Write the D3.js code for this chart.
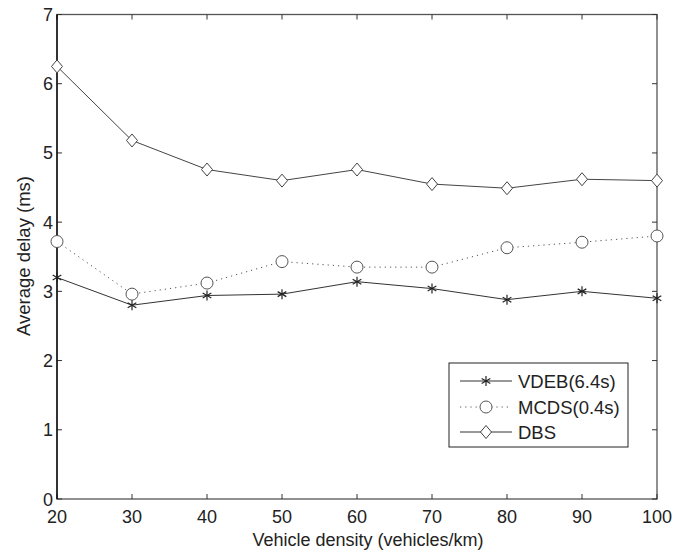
<!DOCTYPE html>
<html>
<head>
<meta charset="utf-8">
<script src="https://cdn.jsdelivr.net/npm/d3@7"></script>
<style>
  body { margin: 0; background: #fff; }
  text { font-family: "Liberation Sans", Arial, sans-serif; fill: #222; }
</style>
</head>
<body>
<svg id="chart" width="675" height="554"></svg>
<script>
// data
var density = [20, 30, 40, 50, 60, 70, 80, 90, 100];
var vdeb = [3.2, 2.8, 2.94, 2.96, 3.14, 3.04, 2.88, 3.0, 2.9];
var mcds = [3.72, 2.96, 3.12, 3.43, 3.35, 3.35, 3.63, 3.71, 3.8];
var dbs = [6.25, 5.18, 4.76, 4.6, 4.76, 4.55, 4.49, 4.62, 4.6];
var seriesNames = ["VDEB(6.4s)", "MCDS(0.4s)", "DBS"];
var xTicks = [20, 30, 40, 50, 60, 70, 80, 90, 100];
var yTicks = [0, 1, 2, 3, 4, 5, 6, 7];

var svg = d3.select("#chart");
var pL = 57, pR = 657, pT = 14.5, pB = 499;

var x = d3.scaleLinear().domain([20, 100]).range([pL, pR]);
var y = d3.scaleLinear().domain([0, 7]).range([pB, pT]);

// box + inward ticks
svg.append("rect")
  .attr("x", pL).attr("y", pT)
  .attr("width", pR - pL).attr("height", pB - pT)
  .attr("fill", "none").attr("stroke", "#555").attr("stroke-width", 1.3);

var tl = 5;
var g = svg.append("g").attr("stroke", "#333").attr("stroke-width", 1);
xTicks.forEach(function (t) {
  g.append("line").attr("x1", x(t)).attr("x2", x(t)).attr("y1", pB).attr("y2", pB - tl);
  g.append("line").attr("x1", x(t)).attr("x2", x(t)).attr("y1", pT).attr("y2", pT + tl);
});
yTicks.forEach(function (t) {
  g.append("line").attr("x1", pL).attr("x2", pL + tl).attr("y1", y(t)).attr("y2", y(t));
  g.append("line").attr("x1", pR).attr("x2", pR - tl).attr("y1", y(t)).attr("y2", y(t));
});
svg.append("line").attr("x1", pL).attr("x2", pL).attr("y1", pT).attr("y2", pB)
  .attr("stroke", "#000").attr("stroke-width", 1.3);

svg.selectAll(".xl").data(xTicks).enter().append("text")
  .attr("x", function (d) { return x(d); })
  .attr("y", 523)
  .attr("text-anchor", "middle")
  .attr("font-size", "18px")
  .text(function (d) { return d; });

svg.selectAll(".yl").data(yTicks).enter().append("text")
  .attr("x", 53)
  .attr("y", function (d) { return y(d) + 6.5; })
  .attr("text-anchor", "end")
  .attr("font-size", "18px")
  .text(function (d) { return d; });

svg.append("text")
  .attr("x", 368).attr("y", 546)
  .attr("text-anchor", "middle").attr("font-size", "18px")
  .text("Vehicle density (vehicles/km)");

svg.append("text")
  .attr("transform", "translate(30,256) rotate(-90)")
  .attr("text-anchor", "middle").attr("font-size", "18.5px")
  .text("Average delay (ms)");

var line = d3.line()
  .x(function (d, i) { return x(density[i]); })
  .y(function (d) { return y(d); });

function star(sel, cx, cy, r) {
  var gg = sel.append("g").attr("stroke", "#222").attr("stroke-width", 1.2);
  [0, 60, 120].forEach(function (a) {
    var rad = (a + 90) * Math.PI / 180;
    gg.append("line")
      .attr("x1", cx - r * Math.cos(rad)).attr("y1", cy - r * Math.sin(rad))
      .attr("x2", cx + r * Math.cos(rad)).attr("y2", cy + r * Math.sin(rad));
  });
}
function circ(sel, cx, cy) {
  sel.append("circle").attr("cx", cx).attr("cy", cy).attr("r", 6)
    .attr("fill", "#fff").attr("stroke", "#555").attr("stroke-width", 1);
}
function diam(sel, cx, cy) {
  sel.append("path")
    .attr("d", "M" + cx + "," + (cy - 6.5) + "L" + (cx + 5.5) + "," + cy + "L" + cx + "," + (cy + 6.5) + "L" + (cx - 5.5) + "," + cy + "Z")
    .attr("fill", "#fff").attr("stroke", "#444").attr("stroke-width", 1);
}

svg.append("path").datum(dbs).attr("d", line)
  .attr("fill", "none").attr("stroke", "#444").attr("stroke-width", 1);
svg.append("path").datum(mcds).attr("d", line)
  .attr("fill", "none").attr("stroke", "#555").attr("stroke-width", 1)
  .attr("stroke-dasharray", "1.2,4");
svg.append("path").datum(vdeb).attr("d", line)
  .attr("fill", "none").attr("stroke", "#333").attr("stroke-width", 1);

var marks = svg.append("g");
dbs.forEach(function (v, i) { diam(marks, x(density[i]), y(v)); });
mcds.forEach(function (v, i) { circ(marks, x(density[i]), y(v)); });
vdeb.forEach(function (v, i) { star(marks, x(density[i]), y(v), 5); });

// legend
var lg = svg.append("g");
lg.append("rect").attr("x", 449).attr("y", 363).attr("width", 179).attr("height", 84)
  .attr("fill", "#fff").attr("stroke", "#222").attr("stroke-width", 1);
var rows = [381, 407, 432];
var lx1 = 460, lx2 = 512, lmid = 486;
lg.append("line").attr("x1", lx1).attr("x2", lx2).attr("y1", rows[0]).attr("y2", rows[0])
  .attr("stroke", "#333");
star(lg, lmid, rows[0], 5);
lg.append("line").attr("x1", lx1).attr("x2", lx2).attr("y1", rows[1]).attr("y2", rows[1])
  .attr("stroke", "#555").attr("stroke-dasharray", "1.2,4");
circ(lg, lmid, rows[1]);
lg.append("line").attr("x1", lx1).attr("x2", lx2).attr("y1", rows[2]).attr("y2", rows[2])
  .attr("stroke", "#333");
diam(lg, lmid, rows[2]);
seriesNames.forEach(function (n, i) {
  lg.append("text").attr("x", 518).attr("y", rows[i] + 6.5)
    .attr("font-size", "18.5px").text(n);
});
</script>
</body>
</html>
